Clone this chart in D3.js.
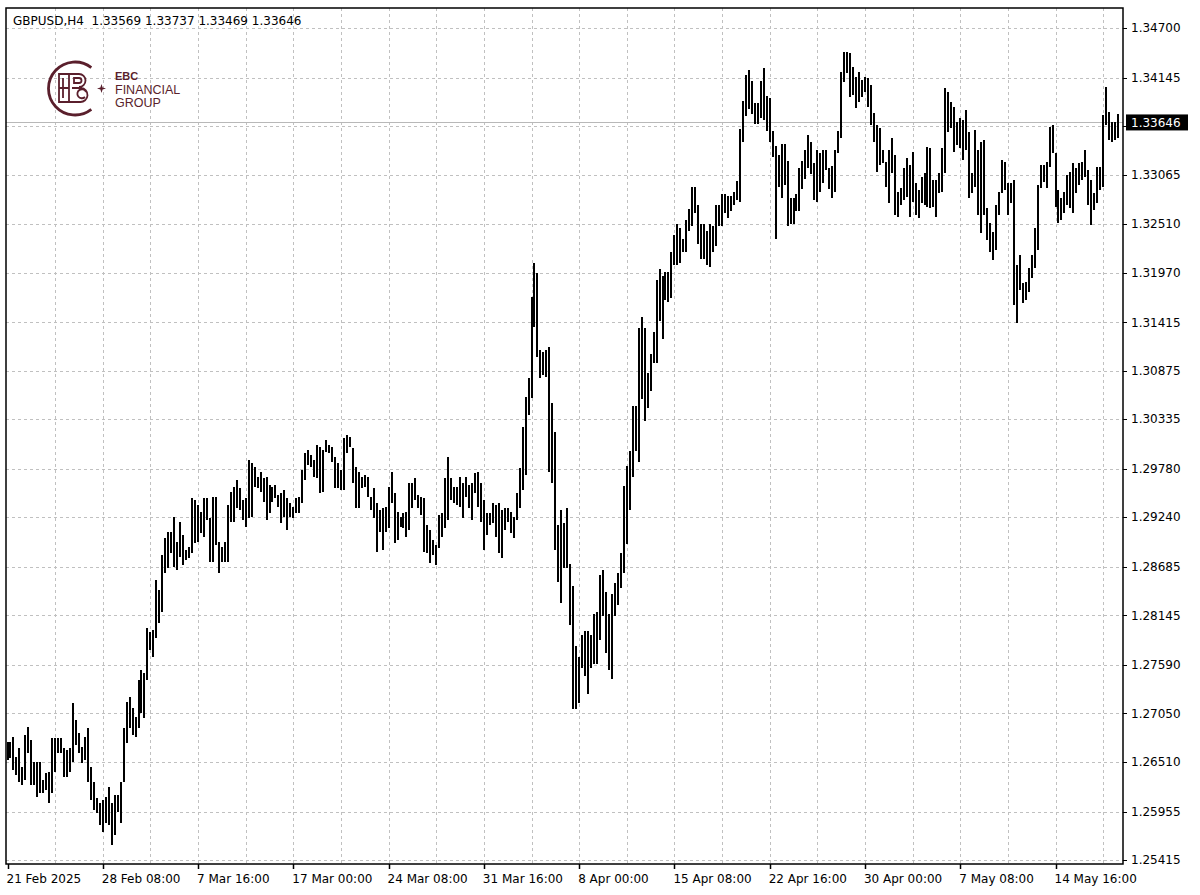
<!DOCTYPE html>
<html><head><meta charset="utf-8">
<script src="https://cdn.jsdelivr.net/npm/d3@7"></script>
<style>html,body{margin:0;padding:0;background:#fff}</style>
</head><body>
<svg id="chart" width="1200" height="895"></svg>
<script>
const symbol = "GBPUSD,H4";
const lastOHLC = [1.33569, 1.33737, 1.33469, 1.33646];
const currentPrice = 1.33646;

const highs = [
1.26732,1.26732,1.26788,1.26565,1.26665,1.26453,1.26810,1.26900,1.26755,1.26509,
1.26509,1.26509,1.26308,1.26386,1.26397,1.26777,1.26777,1.26777,1.26777,1.26665,
1.26643,1.26665,1.27168,1.26978,1.26833,1.26676,1.26788,1.26888,1.26453,1.26286,
1.26107,1.26052,1.26085,1.26118,1.26230,1.26052,1.26141,1.26141,1.26286,1.26888,
1.27179,1.27234,1.27112,1.27011,1.27424,1.27536,1.27502,1.28004,1.27960,1.27982,
1.28540,1.28429,1.28819,1.29009,1.29076,1.29076,1.29243,1.28964,1.29187,1.29042,
1.28875,1.28908,1.29455,1.29433,1.29377,1.29299,1.29455,1.29455,1.29232,1.29466,
1.29466,1.28964,1.28908,1.28964,1.29377,1.29522,1.29578,1.29656,1.29567,1.29433,
1.29455,1.29879,1.29846,1.29801,1.29690,1.29745,1.29678,1.29690,1.29600,1.29578,
1.29600,1.29489,1.29511,1.29545,1.29455,1.29400,1.29355,1.29455,1.29466,1.29768,
1.29957,1.29991,1.29935,1.29879,1.30047,1.30024,1.29991,1.30103,1.30047,1.30024,
1.29913,1.29846,1.29768,1.30125,1.30158,1.30136,1.30013,1.29801,1.29745,1.29690,
1.29712,1.29690,1.29466,1.29567,1.29400,1.29321,1.29344,1.29355,1.29578,1.29745,
1.29511,1.29299,1.29243,1.29288,1.29299,1.29623,1.29623,1.29678,1.29489,1.29466,
1.29455,1.29154,1.29098,1.28987,1.28931,1.29266,1.29288,1.29678,1.29913,1.29678,
1.29578,1.29578,1.29690,1.29623,1.29690,1.29600,1.29623,1.29734,1.29745,1.29623,
1.29433,1.29288,1.29288,1.29400,1.29377,1.29400,1.29321,1.29344,1.29344,1.29299,
1.29243,1.29511,1.29790,1.30248,1.30582,1.30794,1.31698,1.32078,1.31966,1.31107,
1.31085,1.31107,1.31140,1.30516,1.30192,1.29154,1.29321,1.29176,1.29344,1.28719,
1.28473,1.27804,1.27681,1.27926,1.27971,1.27971,1.27926,1.28161,1.28183,1.28596,
1.28652,1.28406,1.28161,1.28384,1.28507,1.28618,1.28841,1.29589,1.29812,1.29980,
1.30482,1.30482,1.31352,1.31475,1.31352,1.30850,1.31062,1.31308,1.31888,1.32011,
1.31933,1.31977,1.31977,1.32201,1.32390,1.32513,1.32468,1.32346,1.32558,1.32681,
1.32926,1.32926,1.32725,1.32513,1.32513,1.32435,1.32513,1.32491,1.32725,1.32725,
1.32848,1.32848,1.32826,1.32826,1.32870,1.32993,1.33573,1.33886,1.34176,1.34232,
1.34109,1.33864,1.33864,1.34109,1.34254,1.33942,1.33919,1.33551,1.33384,1.33283,
1.33406,1.33406,1.33216,1.32803,1.32803,1.32848,1.33138,1.33216,1.33339,1.33506,
1.33428,1.33194,1.33339,1.33305,1.33339,1.33339,1.33138,1.33160,1.33339,1.33551,
1.34209,1.34433,1.34433,1.34421,1.34265,1.34154,1.34209,1.34120,1.34154,1.34142,
1.34064,1.33752,1.33618,1.33584,1.33339,1.33205,1.33339,1.33473,1.33283,1.32870,
1.32915,1.33138,1.33250,1.33172,1.33317,1.32971,1.32893,1.33038,1.33082,1.33372,
1.33361,1.33004,1.33004,1.33082,1.33361,1.34031,1.33986,1.33875,1.33819,1.33651,
1.33696,1.33674,1.33785,1.33540,1.33082,1.33562,1.33339,1.33428,1.33451,1.32692,
1.32524,1.32424,1.32725,1.32870,1.33227,1.33205,1.32971,1.32971,1.33004,1.32056,
1.32167,1.31855,1.31866,1.32022,1.32167,1.32468,1.32948,1.33172,1.33172,1.33205,
1.33596,1.33618,1.33305,1.32893,1.32803,1.32870,1.33060,1.33093,1.33194,1.33138,
1.33194,1.33205,1.33339,1.33116,1.33004,1.32859,1.33149,1.33149,1.33730,1.34042,
1.33763,1.33651,1.33651,1.33737
];

const lows = [
1.26531,1.26554,1.26420,1.26364,1.26286,1.26252,1.26308,1.26609,1.26252,1.26252,
1.26118,1.26163,1.26163,1.26197,1.26052,1.26163,1.26397,1.26609,1.26609,1.26342,
1.26342,1.26397,1.26509,1.26699,1.26609,1.26498,1.26531,1.26286,1.26085,1.25973,
1.25940,1.25806,1.25728,1.25828,1.25806,1.25583,1.25694,1.25951,1.25828,1.26286,
1.26721,1.26888,1.26810,1.26788,1.26888,1.27056,1.27000,1.27424,1.27759,1.27681,
1.27893,1.28060,1.28183,1.28618,1.28674,1.28841,1.28685,1.28652,1.28797,1.28708,
1.28763,1.28786,1.28841,1.28953,1.28964,1.29065,1.29020,1.29210,1.28741,1.28741,
1.28931,1.28618,1.28741,1.28741,1.28741,1.29187,1.29187,1.29344,1.29321,1.29210,
1.29132,1.29232,1.29243,1.29578,1.29567,1.29522,1.29411,1.29210,1.29288,1.29411,
1.29455,1.29355,1.29176,1.29243,1.29098,1.29243,1.29232,1.29288,1.29288,1.29400,
1.29656,1.29824,1.29801,1.29690,1.29678,1.29511,1.29522,1.29969,1.29957,1.29857,
1.29567,1.29567,1.29545,1.29545,1.29957,1.30024,1.29623,1.29344,1.29344,1.29567,
1.29578,1.29466,1.29321,1.29232,1.28853,1.29076,1.28875,1.29076,1.29120,1.29400,
1.28953,1.28987,1.29132,1.29120,1.29020,1.29098,1.29344,1.29433,1.29344,1.29266,
1.28853,1.28841,1.28730,1.28819,1.28708,1.28897,1.29020,1.29120,1.29210,1.29433,
1.29400,1.29377,1.29355,1.29232,1.29466,1.29344,1.29210,1.29511,1.29355,1.29187,
1.28875,1.29042,1.29154,1.29176,1.29020,1.28841,1.28786,1.29098,1.29187,1.29065,
1.29009,1.29210,1.29344,1.29545,1.29712,1.30382,1.30571,1.31364,1.31029,1.30794,
1.30828,1.30806,1.29745,1.29623,1.28875,1.28518,1.28284,1.28674,1.28674,1.28038,
1.27101,1.27101,1.27168,1.27558,1.27469,1.27268,1.27558,1.27603,1.27603,1.27871,
1.28138,1.27725,1.27536,1.27435,1.28138,1.28261,1.28451,1.28618,1.28942,1.29321,
1.29690,1.29980,1.29857,1.30560,1.30315,1.30460,1.30649,1.30962,1.30962,1.31431,
1.31230,1.31665,1.31643,1.31687,1.32056,1.32056,1.32078,1.32201,1.32201,1.32435,
1.32491,1.32636,1.32290,1.32123,1.32123,1.32056,1.32033,1.32201,1.32268,1.32491,
1.32491,1.32636,1.32580,1.32658,1.32725,1.32781,1.32759,1.33428,1.33718,1.33797,
1.33741,1.33629,1.33629,1.33696,1.33674,1.33551,1.33428,1.33261,1.32346,1.32926,
1.32803,1.32948,1.32491,1.32513,1.32513,1.32658,1.32658,1.32904,1.33015,1.33138,
1.33071,1.32781,1.32759,1.32870,1.32971,1.33116,1.32904,1.32803,1.32870,1.33305,
1.33473,1.34098,1.34198,1.33930,1.33953,1.33808,1.33875,1.33930,1.33986,1.33819,
1.33618,1.33428,1.33093,1.33172,1.33194,1.32926,1.32748,1.33082,1.32614,1.32591,
1.32725,1.32781,1.32814,1.32591,1.32759,1.32614,1.32580,1.32748,1.32725,1.32703,
1.32692,1.32703,1.32591,1.32859,1.32870,1.33082,1.33540,1.33584,1.33317,1.33395,
1.33361,1.33227,1.33339,1.32803,1.32859,1.32926,1.32614,1.32413,1.32614,1.32335,
1.32201,1.32111,1.32223,1.32614,1.32859,1.32893,1.32614,1.32748,1.31609,1.31408,
1.31777,1.31632,1.31665,1.31754,1.31910,1.32022,1.32223,1.32915,1.32982,1.32915,
1.33149,1.33305,1.32703,1.32524,1.32558,1.32636,1.32725,1.32692,1.32636,1.32859,
1.32948,1.33004,1.33038,1.32725,1.32502,1.32669,1.32748,1.32893,1.32926,1.33618,
1.33451,1.33428,1.33451,1.33469
];

const priceTicks = [1.25415,1.25955,1.26510,1.27050,1.27590,1.28145,1.28685,1.29240,
  1.29780,1.30335,1.30875,1.31415,1.31970,1.32510,1.33065,1.33605,1.34145,1.34700];
const timeTickIndex = [0,32,64,96,128,160,192,224,256,288,320,352];
const timeTickLabels = ["21 Feb 2025","28 Feb 08:00","7 Mar 16:00","17 Mar 00:00","24 Mar 08:00",
  "31 Mar 16:00","8 Apr 00:00","15 Apr 08:00","22 Apr 16:00","30 Apr 00:00","7 May 08:00","14 May 16:00"];
const gridStep = 16;

const svg = d3.select("#chart");
const L = 6, T = 8, R = 1123, B = 864;
const n = highs.length;
const font = "'DejaVu Sans', sans-serif";

const x = d3.scaleLinear().domain([0, 352]).range([7.5, 1055.5]);
const y = d3.scaleLinear().domain([1.25415, 1.34700]).range([860, 28]);

svg.append("rect").attr("width",1200).attr("height",895).attr("fill","#fff");

// grid
const gridColor = "#c0c0c0";
const g = svg.append("g");
g.selectAll("line.hg").data(priceTicks).join("line")
  .attr("x1", L).attr("x2", R)
  .attr("y1", d => Math.round(y(d)) + 0.5).attr("y2", d => Math.round(y(d)) + 0.5)
  .attr("stroke", gridColor).attr("stroke-width", 1).attr("stroke-dasharray", "3,3");
const vIdx = d3.range(gridStep, n, gridStep);
g.selectAll("line.vg").data(vIdx).join("line")
  .attr("x1", d => Math.round(x(d)) + 0.5).attr("x2", d => Math.round(x(d)) + 0.5)
  .attr("y1", T).attr("y2", B)
  .attr("stroke", gridColor).attr("stroke-width", 1).attr("stroke-dasharray", "3,3");

// current price line
svg.append("line").attr("x1", L).attr("x2", R)
  .attr("y1", Math.round(y(currentPrice)) + 0.5).attr("y2", Math.round(y(currentPrice)) + 0.5)
  .attr("stroke", "#b8b8b8").attr("stroke-width", 1);

// bars
svg.append("g").selectAll("rect").data(d3.range(n)).join("rect")
  .attr("x", i => Math.round(x(i)) - 1)
  .attr("width", 2)
  .attr("y", i => Math.round(y(highs[i])))
  .attr("height", i => Math.max(1, Math.round(y(lows[i])) - Math.round(y(highs[i]))))
  .attr("fill", "#000")
  .attr("shape-rendering", "crispEdges");

// frame
svg.append("rect").attr("x", L).attr("y", T).attr("width", R - L).attr("height", B - T)
  .attr("fill", "none").attr("stroke", "#000").attr("stroke-width", 1.5);

// y ticks and labels (the label hidden behind the current-price box is not drawn)
const yAx = svg.append("g");
yAx.selectAll("line").data(priceTicks).join("line")
  .attr("x1", R).attr("x2", R + 4)
  .attr("y1", d => Math.round(y(d)) + 0.5).attr("y2", d => Math.round(y(d)) + 0.5)
  .attr("stroke", "#000");
const visibleTicks = priceTicks.filter(d => Math.abs(y(d) - y(currentPrice)) > 12);
yAx.selectAll("text").data(visibleTicks).join("text")
  .attr("x", R + 8).attr("y", d => y(d)).attr("dy", "0.35em")
  .attr("font-family", font).attr("font-size", 12).attr("fill", "#000")
  .text(d => d.toFixed(5));

// current price box
svg.append("rect").attr("x", R + 3).attr("y", y(currentPrice) - 8).attr("width", 62).attr("height", 16).attr("fill", "#000");
svg.append("text").attr("x", R + 8).attr("y", y(currentPrice)).attr("dy", "0.35em")
  .attr("font-family", font).attr("font-size", 12).attr("fill", "#fff").text(currentPrice.toFixed(5));

// x ticks and labels
const xAx = svg.append("g");
xAx.selectAll("line").data(timeTickIndex).join("line")
  .attr("x1", d => Math.round(x(d)) + 0.5).attr("x2", d => Math.round(x(d)) + 0.5)
  .attr("y1", B).attr("y2", B + 5).attr("stroke", "#000").attr("stroke-width", 1.5);
xAx.selectAll("text").data(timeTickIndex).join("text")
  .attr("x", d => x(d) - 1).attr("y", 883)
  .attr("font-family", font).attr("font-size", 12).attr("fill", "#000")
  .text((d, k) => timeTickLabels[k]);

// header
svg.append("text").attr("x", 13).attr("y", 25)
  .attr("font-family", font).attr("font-size", 12).attr("fill", "#000")
  .attr("xml:space", "preserve")
  .text(symbol + "  " + lastOHLC.map(v => v.toFixed(5)).join(" "));

// logo
const maroon = "#5a1f2c";
const logo = svg.append("g").attr("fill", "none").attr("stroke", maroon);
const cx = 75, cy = 88.5, r = 26.5;
const a0 = -52 * Math.PI / 180, a1 = 52 * Math.PI / 180;
logo.append("path").attr("stroke-width", 2.8)
  .attr("d", `M${cx + r*Math.cos(a0)},${cy + r*Math.sin(a0)} A${r},${r} 0 1 0 ${cx + r*Math.cos(a1)},${cy + r*Math.sin(a1)}`);
logo.append("path").attr("stroke-width", 1.8)
  .attr("d", "M72,74 H59 V102 H72 M63,78 V98 M59,88 H69 M69,74 V102 H80 a7,7 0 0 0 1,-14 H72 M69,74 H79 a6.5,6.5 0 0 1 0,13 M74,78 H79 a2.5,2.5 0 0 1 0,5 H74 Z M86,92 a4.5,4.5 0 1 0 -1,5");
svg.append("path").attr("fill", maroon)
  .attr("d", "M101.5,84 L102.6,87.4 L106,88.5 L102.6,89.6 L101.5,93 L100.4,89.6 L97,88.5 L100.4,87.4 Z");
svg.append("text").attr("x", 115).attr("y", 80).attr("font-family", "'Liberation Sans', Arial, sans-serif")
  .attr("font-size", 11).attr("font-weight", "bold").attr("fill", maroon).text("EBC");
svg.append("text").attr("x", 115).attr("y", 94).attr("font-family", "'Liberation Sans', Arial, sans-serif")
  .attr("font-size", 12.5).attr("fill", maroon).text("FINANCIAL");
svg.append("text").attr("x", 115).attr("y", 107).attr("font-family", "'Liberation Sans', Arial, sans-serif")
  .attr("font-size", 12.5).attr("fill", maroon).text("GROUP");
</script>
</body></html>
